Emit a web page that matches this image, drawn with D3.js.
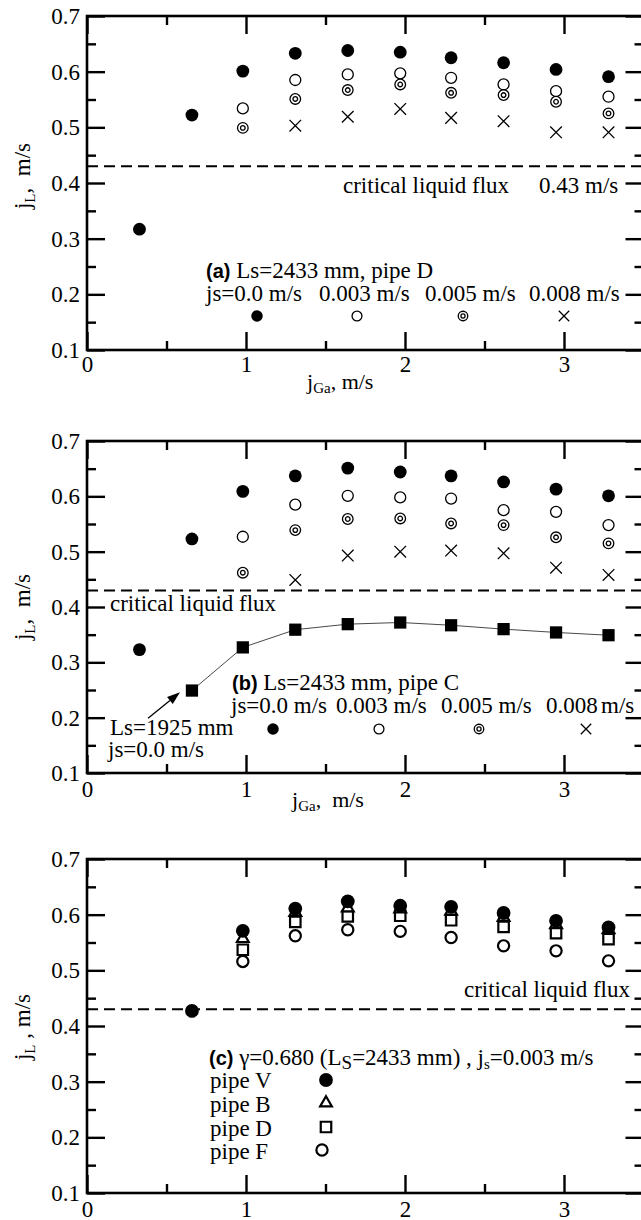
<!DOCTYPE html>
<html><head><meta charset="utf-8">
<script src="https://cdn.jsdelivr.net/npm/d3@7"></script>
<style>
body{margin:0;background:#fff}
text{font-family:"Liberation Serif","Times New Roman",serif;fill:#000;white-space:pre}
</style>
</head><body>
<svg id="chart" width="641" height="1220" xmlns="http://www.w3.org/2000/svg"></svg>
<script>
// ---------------- data ----------------
const jGa = [0.33, 0.66, 0.98, 1.31, 1.64, 1.97, 2.29, 2.62, 2.95, 3.28];

// panel (a): Ls=2433 mm, pipe D
const aJs0   = [0.317, 0.522, 0.601, 0.633, 0.638, 0.635, 0.625, 0.616, 0.604, 0.591];
const aJs003 = [null, null, 0.534, 0.585, 0.595, 0.597, 0.589, 0.577, 0.565, 0.555];
const aJs005 = [null, null, 0.499, 0.551, 0.567, 0.577, 0.562, 0.558, 0.546, 0.525];
const aJs008 = [null, null, null, 0.503, 0.519, 0.533, 0.517, 0.511, 0.491, 0.491];

// panel (b): Ls=2433 mm, pipe C
const bJs0   = [0.323, 0.523, 0.609, 0.637, 0.651, 0.644, 0.637, 0.626, 0.613, 0.601];
const bJs003 = [null, null, 0.527, 0.585, 0.601, 0.598, 0.596, 0.575, 0.572, 0.548];
const bJs005 = [null, null, 0.462, 0.539, 0.559, 0.560, 0.551, 0.548, 0.526, 0.515];
const bJs008 = [null, null, null, 0.449, 0.493, 0.500, 0.502, 0.497, 0.471, 0.458];
const bLs1925 = [null, 0.249, 0.327, 0.359, 0.369, 0.372, 0.367, 0.360, 0.354, 0.349];

// panel (c): gamma=0.680, js=0.003 m/s
const cPipeV = [null, 0.427, 0.571, 0.611, 0.624, 0.616, 0.614, 0.603, 0.589, 0.577];
const cPipeB = [null, null, 0.557, 0.604, 0.612, 0.610, 0.606, 0.595, 0.582, 0.573];
const cPipeD = [null, null, 0.537, 0.587, 0.597, 0.598, 0.590, 0.578, 0.567, 0.556];
const cPipeF = [null, null, 0.516, 0.562, 0.573, 0.570, 0.559, 0.544, 0.535, 0.517];

const criticalFlux = 0.43;

const xMajorTicks = [0, 1, 2, 3];
const xMinorTicks = [0.5, 1.5, 2.5, 3.5];
const xTickLabels = ["0", "1", "2", "3"];
const yMajorTicks = [0.1, 0.2, 0.3, 0.4, 0.5, 0.6, 0.7];
const yMinorTicks = [0.15, 0.25, 0.35, 0.45, 0.55, 0.65];
const yTickLabels = ["0.1", "0.2", "0.3", "0.4", "0.5", "0.6", "0.7"];

// ---------------- drawing ----------------
const svg = d3.select("#chart");
svg.append("rect").attr("width", 641).attr("height", 1220).attr("fill", "#fff");

const ANN = 23;   // annotation font size
const TICK = 23;  // tick label font size

function pts(vals) {
  return jGa.map((x, i) => ({x, y: vals[i]})).filter(d => d.y != null);
}

function marker(sel, type, s) {
  s = s || 1;
  if (type === "solid") {
    sel.append("circle").attr("r", 6.4 * s).attr("fill", "#000");
  } else if (type === "open") {
    sel.append("circle").attr("r", 5.5 * s).attr("fill", "#fff").attr("stroke", "#000").attr("stroke-width", 1.3);
  } else if (type === "double") {
    sel.append("circle").attr("r", 5.3 * s).attr("fill", "#fff").attr("stroke", "#000").attr("stroke-width", 1.3);
    sel.append("circle").attr("r", 2.3 * s).attr("fill", "none").attr("stroke", "#000").attr("stroke-width", 1.3);
  } else if (type === "cross") {
    const h = 5.8 * s;
    sel.append("path").attr("d", `M${-h},${-h}L${h},${h}M${-h},${h}L${h},${-h}`)
      .attr("stroke", "#000").attr("stroke-width", 1.3).attr("fill", "none");
  } else if (type === "sqfill") {
    sel.append("path").attr("d", d3.symbol(d3.symbolSquare, 150 * s * s)()).attr("fill", "#000");
  } else if (type === "boldOpen") {
    sel.append("circle").attr("r", 5.6 * s).attr("fill", "#fff").attr("stroke", "#000").attr("stroke-width", 2.2);
  } else if (type === "boldSquare") {
    sel.append("path").attr("d", d3.symbol(d3.symbolSquare, 110 * s * s)()).attr("fill", "#fff").attr("stroke", "#000").attr("stroke-width", 2.2);
  } else if (type === "boldTri") {
    sel.append("path").attr("d", d3.symbol(d3.symbolTriangle, 60 * s * s)()).attr("fill", "#fff").attr("stroke", "#000").attr("stroke-width", 2.2);
  } else if (type === "bigSolid") {
    sel.append("circle").attr("r", 6.9 * s).attr("fill", "#000");
  }
}

function series(g, x, y, vals, type) {
  g.append("g").selectAll("g").data(pts(vals)).join("g")
    .attr("transform", d => `translate(${x(d.x)},${y(d.y)})`)
    .each(function () { marker(d3.select(this), type); });
}

function styleAxis(a, fs) {
  a.select(".domain").remove();
  a.selectAll(".tick line").attr("stroke", "#000").attr("stroke-width", 2.4);
  a.selectAll(".tick text").attr("font-size", fs).attr("font-family", '"Liberation Serif","Times New Roman",serif').attr("fill", "#000");
}

function makePanel(top, bottom, xLabPad) {
  const x = d3.scaleLinear().domain([0, 3.5]).range([87, 643.5]);
  const y = d3.scaleLinear().domain([0.1, 0.7]).range([bottom, top]);
  const g = svg.append("g");
  // bottom
  g.append("g").attr("transform", `translate(0,${bottom})`)
    .call(d3.axisBottom(x).tickValues(xMajorTicks).tickSize(-18).tickPadding(xLabPad)
      .tickFormat((d, i) => xTickLabels[i])).call(a => styleAxis(a, TICK));
  g.append("g").attr("transform", `translate(0,${bottom})`)
    .call(d3.axisBottom(x).tickValues(xMinorTicks).tickSize(-9).tickFormat("")).call(a => styleAxis(a, TICK));
  // top
  g.append("g").attr("transform", `translate(0,${top})`)
    .call(d3.axisTop(x).tickValues(xMajorTicks).tickSize(-18).tickFormat("")).call(a => styleAxis(a, TICK));
  g.append("g").attr("transform", `translate(0,${top})`)
    .call(d3.axisTop(x).tickValues(xMinorTicks).tickSize(-9).tickFormat("")).call(a => styleAxis(a, TICK));
  // left
  g.append("g").attr("transform", `translate(87,0)`)
    .call(d3.axisLeft(y).tickValues(yMajorTicks).tickSize(-18).tickPadding(7)
      .tickFormat((d, i) => yTickLabels[i])).call(a => styleAxis(a, TICK));
  g.append("g").attr("transform", `translate(87,0)`)
    .call(d3.axisLeft(y).tickValues(yMinorTicks).tickSize(-9).tickFormat("")).call(a => styleAxis(a, TICK));
  // right
  g.append("g").attr("transform", `translate(643.5,0)`)
    .call(d3.axisRight(y).tickValues(yMajorTicks).tickSize(-18).tickFormat("")).call(a => styleAxis(a, TICK));
  g.append("g").attr("transform", `translate(643.5,0)`)
    .call(d3.axisRight(y).tickValues(yMinorTicks).tickSize(-9).tickFormat("")).call(a => styleAxis(a, TICK));
  // frame
  g.append("rect").attr("x", 87).attr("y", top).attr("width", 643.5 - 87).attr("height", bottom - top)
    .attr("fill", "none").attr("stroke", "#000").attr("stroke-width", 2.6);
  // critical flux dashed line
  g.append("line").attr("x1", x(0)).attr("x2", x(3.5)).attr("y1", y(criticalFlux)).attr("y2", y(criticalFlux))
    .attr("stroke", "#000").attr("stroke-width", 2).attr("stroke-dasharray", "11,6");
  return {g, x, y};
}

function yTitle(g, cx, cy, after) {
  const t = g.append("text").attr("transform", `translate(${cx},${cy}) rotate(-90)`)
    .attr("text-anchor", "middle").attr("font-size", 23);
  t.append("tspan").text("j");
  t.append("tspan").attr("dy", 5).attr("font-size", 15).text("L");
  t.append("tspan").attr("dy", -5).text(after);
}

function xTitle(g, xs, yb, after) {
  const t = g.append("text").attr("x", xs).attr("y", yb).attr("font-size", 22);
  t.append("tspan").text("j");
  t.append("tspan").attr("dy", 4).attr("font-size", 15).text("Ga");
  t.append("tspan").attr("dy", -4).text(after);
}

function txt(g, x, y, s, fs, anchor) {
  return g.append("text").attr("x", x).attr("y", y).attr("font-size", fs || ANN)
    .attr("text-anchor", anchor || "start").text(s);
}

function boldLabel(g, x, y, lab, rest) {
  const t = g.append("text").attr("x", x).attr("y", y).attr("font-size", ANN);
  t.append("tspan").attr("font-family", '"Liberation Sans",Arial,sans-serif').attr("font-weight", "bold")
    .attr("font-size", 20).text(lab);
  t.append("tspan").text(rest);
  return t;
}

function legendMarker(g, px, py, type, s) {
  const m = g.append("g").attr("transform", `translate(${px},${py})`);
  marker(m, type, s);
}

// ---------- panel (a) ----------
{
  const {g, x, y} = makePanel(16, 350, 6);
  series(g, x, y, aJs0, "solid");
  series(g, x, y, aJs003, "open");
  series(g, x, y, aJs005, "double");
  series(g, x, y, aJs008, "cross");
  txt(g, 343, 193, "critical liquid flux");
  txt(g, 539, 193, "0.43 m/s");
  boldLabel(g, 206, 278, "(a)", " Ls=2433 mm, pipe D");
  txt(g, 206, 301, "js=0.0 m/s");
  txt(g, 319, 301, "0.003 m/s");
  txt(g, 425, 301, "0.005 m/s");
  txt(g, 529, 301, "0.008 m/s");
  legendMarker(g, 257, 316, "solid", 0.9);
  legendMarker(g, 357, 316, "open", 0.9);
  legendMarker(g, 463, 316, "double", 0.9);
  legendMarker(g, 564, 316, "cross", 0.9);
  yTitle(g, 30, 176, ",  m/s");
  xTitle(g, 307, 389, ", m/s");
}

// ---------- panel (b) ----------
{
  const {g, x, y} = makePanel(441, 773, 8);
  const line = d3.line().x(d => x(d.x)).y(d => y(d.y)).curve(d3.curveLinear);
  g.append("path").attr("d", line(pts(bLs1925))).attr("fill", "none").attr("stroke", "#333").attr("stroke-width", 0.9);
  series(g, x, y, bLs1925, "sqfill");
  series(g, x, y, bJs0, "solid");
  series(g, x, y, bJs003, "open");
  series(g, x, y, bJs005, "double");
  series(g, x, y, bJs008, "cross");
  // arrow
  const tail = [x(0.384), y(0.199)], tip = [x(0.585), y(0.246)];
  const ang = Math.atan2(tip[1] - tail[1], tip[0] - tail[0]);
  const hl = 13, hw = 4.5;
  const bx = tip[0] - hl * Math.cos(ang), by = tip[1] - hl * Math.sin(ang);
  g.append("line").attr("x1", tail[0]).attr("y1", tail[1]).attr("x2", bx).attr("y2", by)
    .attr("stroke", "#000").attr("stroke-width", 1.3);
  g.append("path").attr("d", `M${tip[0]},${tip[1]}L${bx - hw * Math.sin(ang)},${by + hw * Math.cos(ang)}L${bx + hw * Math.sin(ang)},${by - hw * Math.cos(ang)}Z`)
    .attr("fill", "#000");
  txt(g, 110, 611, "critical liquid flux");
  boldLabel(g, 232, 690, "(b)", " Ls=2433 mm, pipe C");
  txt(g, 231, 713, "js=0.0 m/s");
  txt(g, 336, 713, "0.003 m/s");
  txt(g, 441, 713, "0.005 m/s");
  txt(g, 546, 713, "0.008");
  txt(g, 601, 713, "m/s");
  legendMarker(g, 273, 729, "solid", 0.9);
  legendMarker(g, 379, 729, "open", 0.9);
  legendMarker(g, 479, 729, "double", 0.9);
  legendMarker(g, 586, 729, "cross", 0.9);
  txt(g, 110, 735, "Ls=1925 mm");
  txt(g, 108, 757, "js=0.0 m/s");
  yTitle(g, 30, 607, ",  m/s");
  xTitle(g, 292, 807, ",  m/s");
}

// ---------- panel (c) ----------
{
  const {g, x, y} = makePanel(859, 1193, 8);
  series(g, x, y, cPipeF, "boldOpen");
  series(g, x, y, cPipeD, "boldSquare");
  series(g, x, y, cPipeB, "boldTri");
  series(g, x, y, cPipeV, "bigSolid");
  txt(g, 630, 997, "critical liquid flux", ANN, "end");
  const t = g.append("text").attr("x", 209).attr("y", 1065).attr("font-size", ANN);
  t.append("tspan").attr("font-family", '"Liberation Sans",Arial,sans-serif').attr("font-weight", "bold")
    .attr("font-size", 20).text("(c)");
  t.append("tspan").text(" γ=0.680 (L");
  t.append("tspan").attr("dy", 4).attr("font-size", 19).text("S");
  t.append("tspan").attr("dy", -4).text("=2433 mm) , j");
  t.append("tspan").attr("dy", 4).attr("font-size", 15).text("s");
  t.append("tspan").attr("dy", -4).text("=0.003 m/s");
  txt(g, 210, 1088, "pipe V");
  txt(g, 210, 1112, "pipe B");
  txt(g, 210, 1136, "pipe D");
  txt(g, 210, 1159, "pipe F");
  legendMarker(g, 326, 1080, "bigSolid", 1);
  legendMarker(g, 326, 1103, "boldTri", 1);
  legendMarker(g, 326, 1127, "boldSquare", 1);
  legendMarker(g, 322, 1150, "boldOpen", 1);
  yTitle(g, 30, 1027, " , m/s");
}
</script>
</body></html>
